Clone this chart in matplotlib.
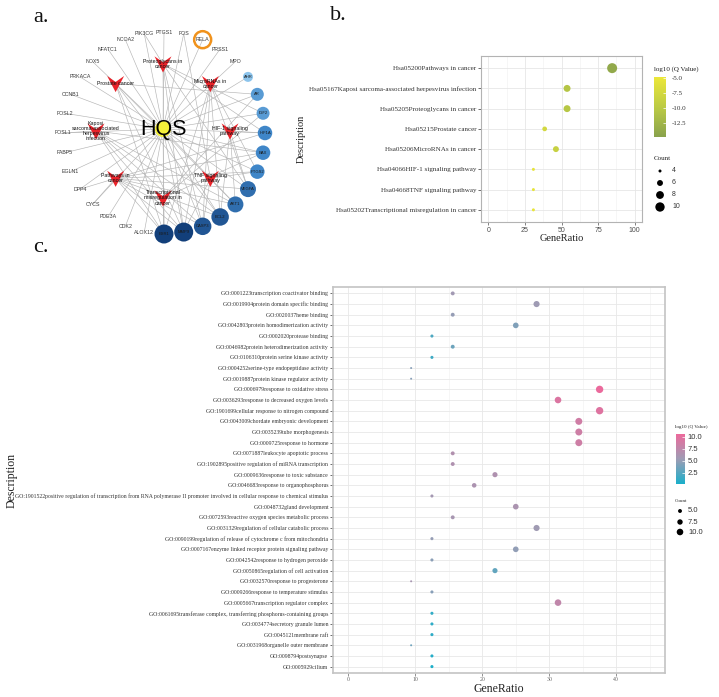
import numpy as np
import matplotlib
matplotlib.use("Agg")
import matplotlib.pyplot as plt
from matplotlib.colors import LinearSegmentedColormap, Normalize
from matplotlib.cm import ScalarMappable
from matplotlib.path import Path
from matplotlib.patches import Circle
import matplotlib.ticker as mticker

SERIF = ["Liberation Serif", "DejaVu Serif"]
SANS = ["Liberation Sans", "DejaVu Sans"]

# ---------------- data: network (panel a) ----------------
compound = "HQS"
genes = ["HIF1A", "IGF2", "AR", "AHR", "MPO", "PRSS1", "RELA", "FOS", "PTGS1", "PIK3CG",
         "NCOA2", "NFATC1", "NOX5", "PRKACA", "CCNB1", "FOSL2", "FOSL1", "FABP5", "EGLN1",
         "DPP4", "CYCS", "PDE3A", "CDK2", "ALOX12", "ESR1", "MMP9", "CASP3", "BCL2", "AKT1",
         "VEGFA", "PTGS2", "BAX"]
core_targets = ["AHR", "AR", "IGF2", "HIF1A", "BAX", "PTGS2", "VEGFA", "AKT1", "BCL2",
                "CASP3", "MMP9", "ESR1"]
highlight_gene = "RELA"
pathway_labels = ["HIF-1 signaling\npathway", "MicroRNAs in\ncancer", "Proteoglycans in\ncancer",
                  "Prostate cancer", "Kaposi\nsarcoma-associated\nherpesvirus\ninfection",
                  "Pathways in\ncancer", "Transcriptional\nmisregulation in\ncancer",
                  "TNF signaling\npathway"]
pathway_members = [
    ["BCL2", "AKT1", "VEGFA", "HIF1A"],
    ["ESR1", "MMP9", "CASP3", "BCL2", "VEGFA", "PTGS2"],
    ["ESR1", "MMP9", "CASP3", "VEGFA", "HIF1A", "IGF2", "PIK3CG"],
    ["ESR1", "MMP9", "BCL2", "AKT1", "AR"],
    ["ESR1", "MMP9", "CASP3", "BCL2", "AKT1", "BAX", "FOSL1"],
    ["ESR1", "MMP9", "CASP3", "BCL2", "AKT1", "VEGFA", "PTGS2", "BAX", "HIF1A", "CYCS", "DPP4"],
    ["ESR1", "BAX", "IGF2", "AR"],
    ["MMP9", "CASP3", "PTGS2", "FOS"],
]

# ---------------- data: KEGG (panel b) ----------------
kegg_terms = ["Hsa05200Pathways in cancer",
              "Hsa05167Kaposi sarcoma-associated herpesvirus infection",
              "Hsa05205Proteoglycans in cancer",
              "Hsa05215Prostate cancer",
              "Hsa05206MicroRNAs in cancer",
              "Hsa04066HIF-1 signaling pathway",
              "Hsa04668TNF signaling pathway",
              "Hsa05202Transcriptional misregulation in cancer"]
kegg_ratio = [84.6, 53.8, 53.8, 38.5, 46.2, 30.8, 30.8, 30.8]
kegg_count = [11, 7, 7, 5, 6, 4, 4, 4]
kegg_logq = [-14.0, -10.6, -10.4, -7.6, -8.8, -5.6, -5.5, -5.3]

# ---------------- data: GO (panel c) ----------------
go_terms = [
    "GO:0001223transcription coactivator binding",
    "GO:0019904protein domain specific binding",
    "GO:0020037heme binding",
    "GO:0042803protein homodimerization activity",
    "GO:0002020protease binding",
    "GO:0046982protein heterodimerization activity",
    "GO:0106310protein serine kinase activity",
    "GO:0004252serine-type endopeptidase activity",
    "GO:0019887protein kinase regulator activity",
    "GO:0006979response to oxidative stress",
    "GO:0036293response to decreased oxygen levels",
    "GO:1901699cellular response to nitrogen compound",
    "GO:0043009chordate embryonic development",
    "GO:0035239tube morphogenesis",
    "GO:0009725response to hormone",
    "GO:0071887leukocyte apoptotic process",
    "GO:1902895positive regulation of miRNA transcription",
    "GO:0009636response to toxic substance",
    "GO:0046683response to organophosphorus",
    "GO:1901522positive regulation of transcription from RNA polymerase II promoter involved in cellular response to chemical stimulus",
    "GO:0048732gland development",
    "GO:0072593reactive oxygen species metabolic process",
    "GO:0031329regulation of cellular catabolic process",
    "GO:0090199regulation of release of cytochrome c from mitochondria",
    "GO:0007167enzyme linked receptor protein signaling pathway",
    "GO:0042542response to hydrogen peroxide",
    "GO:0050865regulation of cell activation",
    "GO:0032570response to progesterone",
    "GO:0009266response to temperature stimulus",
    "GO:0005667transcription regulator complex",
    "GO:0061695transferase complex, transferring phosphorus-containing groups",
    "GO:0034774secretory granule lumen",
    "GO:0045121membrane raft",
    "GO:0031968organelle outer membrane",
    "GO:0098794postsynapse",
    "GO:0005929cilium",
]
go_ratio = [15.6, 28.1, 15.6, 25.0, 12.5, 15.6, 12.5, 9.4, 9.4, 37.5, 31.3, 37.5, 34.4, 34.4,
            34.4, 15.6, 15.6, 21.9, 18.8, 12.5, 25.0, 15.6, 28.1, 12.5, 25.0, 12.5, 21.9, 9.4,
            12.5, 31.3, 12.5, 12.5, 12.5, 9.4, 12.5, 12.5]
go_count = [5, 9, 5, 8, 4, 5, 4, 3, 3, 12, 10, 12, 11, 11, 11, 5, 5, 7, 6, 4, 8, 5, 9, 4, 8, 4,
            7, 3, 4, 10, 4, 4, 4, 3, 4, 4]
go_logq = [5.6, 5.4, 5.0, 4.2, 2.2, 3.4, 1.6, 4.5, 4.5, 10.5, 9.4, 9.6, 8.6, 8.5, 8.5, 6.6, 6.5,
           6.5, 6.3, 5.8, 6.2, 6.0, 5.5, 5.0, 4.9, 4.6, 3.0, 6.0, 4.5, 7.6, 1.1, 1.0, 1.0, 3.5,
           0.6, 0.3]

# ---------------- figure ----------------
W, H = 719, 697
fig = plt.figure(figsize=(W / 100, H / 100), dpi=100)
fig.patch.set_facecolor("white")


def fb(left, top, right, bottom):
    return [left / W, 1 - bottom / H, (right - left) / W, (bottom - top) / H]


# ================= panel a: network =================
axn = fig.add_axes(fb(0, 0, 290, 260))
axn.set_xlim(0, 290)
axn.set_ylim(260, 0)
axn.axis("off")

gc = (164, 133)
gr = 101
gene_pos = {}
for k, g in enumerate(genes):
    th = np.deg2rad(k * 360 / len(genes))
    gene_pos[g] = (gc[0] + gr * np.cos(th), gc[1] - gr * np.sin(th))

pc = (163, 131)
pr = 67
path_pos = []
for k in range(len(pathway_labels)):
    th = np.deg2rad(k * 360 / len(pathway_labels))
    path_pos.append((pc[0] + pr * np.cos(th), pc[1] - pr * np.sin(th)))

hqs_pos = (163, 129)
edge_kw = dict(color="#b5b5b5", lw=0.45, zorder=1)
for g in genes:
    x, y = gene_pos[g]
    axn.plot([hqs_pos[0], x], [hqs_pos[1], y], **edge_kw)
for (px_, py_), members in zip(path_pos, pathway_members):
    for g in members:
        x, y = gene_pos[g]
        axn.plot([px_, x], [py_, y], **edge_kw)

degree = {g: 0 for g in genes}
for members in pathway_members:
    for g in members:
        degree[g] += 1

blue_cmap = LinearSegmentedColormap.from_list("blue", ["#8cc4ec", "#3f86c8", "#123f7a"])
maxdeg = max(degree[g] for g in core_targets)
for g in core_targets:
    x, y = gene_pos[g]
    d = degree[g]
    r = 5.0 + 0.75 * d
    axn.scatter([x], [y], s=(2 * r * 0.72) ** 2, color=blue_cmap(d / maxdeg),
                edgecolors="none", zorder=3)
    axn.text(x, y, g, fontsize=3.0, family=SANS, color="#1a1a1a", ha="center",
             va="center", zorder=5)

for g in genes:
    if g in core_targets:
        continue
    x, y = gene_pos[g]
    axn.text(x, y, g, fontsize=3.8, family=SANS, color="#3a3a3a", ha="center",
             va="center", zorder=5)

hx, hy = gene_pos[highlight_gene]
axn.add_patch(Circle((hx, hy), 8.5, fill=False, edgecolor="#f0921c", lw=1.8, zorder=6))

vmark = Path([(-1, 0.9), (0, 0.2), (1, 0.9), (0, -1), (-1, 0.9)],
             [Path.MOVETO, Path.LINETO, Path.LINETO, Path.LINETO, Path.CLOSEPOLY])
for (x, y), lab in zip(path_pos, pathway_labels):
    axn.scatter([x], [y], s=(17 * 0.72) ** 2, marker=vmark, color="#e8232a",
                edgecolors="none", zorder=4)
    axn.text(x, y, lab, fontsize=3.8, family=SANS, color="#111111", ha="center",
             va="center", zorder=5, linespacing=1.05)

axn.scatter([hqs_pos[0]], [hqs_pos[1]], s=(16 * 0.72) ** 2, color="#f4f03a",
            edgecolors="none", zorder=4)
axn.text(hqs_pos[0], hqs_pos[1], compound, fontsize=15.5, family=SANS, color="black",
         ha="center", va="center", zorder=6)

# ================= panel b: KEGG dot plot =================
axb = fig.add_axes(fb(481, 56, 642, 222))
cmap_b = LinearSegmentedColormap.from_list("kegg", ["#89a24c", "#bccb44", "#ece73a"])
norm_b = Normalize(vmin=-14.9, vmax=-4.9)


def size_b(c):
    return (9 + 13 * (np.asarray(c, dtype=float) - 4)) * 0.72 ** 2


yb = np.arange(len(kegg_terms))
axb.scatter(kegg_ratio, yb, s=size_b(kegg_count), c=kegg_logq, cmap=cmap_b, norm=norm_b,
            edgecolors="none", zorder=3)
axb.set_xlim(-5, 105)
axb.set_ylim(len(kegg_terms) - 0.4, -0.6)
axb.set_xticks([0, 25, 50, 75, 100])
axb.xaxis.set_minor_locator(mticker.FixedLocator([12.5, 37.5, 62.5, 87.5]))
axb.set_yticks(yb)
axb.set_yticklabels(kegg_terms, fontsize=5.1, family=SERIF, color="#4d4d4d")
axb.tick_params(axis="x", labelsize=5, colors="#4d4d4d", length=2, width=0.5, pad=1.5)
axb.tick_params(axis="y", length=2, width=0.5, colors="#333333", pad=1.5)
axb.tick_params(axis="both", which="minor", length=0)
for lab in axb.get_xticklabels():
    lab.set_family(SANS)
axb.grid(True, which="major", color="#e6e6e6", lw=0.6, zorder=0)
axb.grid(True, which="minor", axis="x", color="#f0f0f0", lw=0.4, zorder=0)
axb.set_axisbelow(True)
for sp in axb.spines.values():
    sp.set_color("#b3b3b3")
    sp.set_linewidth(0.8)
axb.set_xlabel("GeneRatio", fontsize=7.5, family=SERIF, color="#222222")
axb.xaxis.set_label_coords(0.5, -0.07)
axb.set_ylabel("Description", fontsize=7.5, family=SERIF, color="#222222")
axb.yaxis.set_label_coords((306 - 481) / 161, 0.5)

caxb = fig.add_axes(fb(654, 77, 666, 137))
cbb = fig.colorbar(ScalarMappable(norm=norm_b, cmap=cmap_b), cax=caxb)
cbb.outline.set_visible(False)
cbb.set_ticks([-5.0, -7.5, -10.0, -12.5])
cbb.set_ticklabels(["-5.0", "-7.5", "-10.0", "-12.5"])
caxb.tick_params(length=2, color="white", width=0.5, direction="in", pad=4)
for lab in caxb.get_yticklabels():
    lab.set_fontsize(5)
    lab.set_family(SERIF)
    lab.set_color("#333333")

# ================= panel c: GO dot plot =================
axc = fig.add_axes(fb(333, 287, 665, 673))
cmap_c = LinearSegmentedColormap.from_list("go", ["#1aafca", "#9e9cb4", "#ec6a9c"])
norm_c = Normalize(vmin=0.15, vmax=10.56)


def size_c(c):
    return (4 + 5.6 * (np.asarray(c, dtype=float) - 3)) * 0.72 ** 2


yc = np.arange(len(go_terms))
axc.scatter(go_ratio, yc, s=size_c(go_count), c=go_logq, cmap=cmap_c, norm=norm_c,
            edgecolors="none", zorder=3)
axc.set_xlim(-2.25, 47.25)
axc.set_ylim(len(go_terms) - 0.4, -0.6)
axc.set_xticks([0, 10, 20, 30, 40])
axc.xaxis.set_minor_locator(mticker.FixedLocator([5, 15, 25, 35, 45]))
axc.set_yticks(yc)
axc.set_yticklabels(go_terms, fontsize=4.15, family=SERIF, color="#4d4d4d")
axc.tick_params(axis="x", labelsize=4.2, colors="#666666", length=2, width=0.5, pad=1)
axc.tick_params(axis="y", length=2, width=0.5, colors="#333333", pad=1.5)
axc.tick_params(axis="both", which="minor", length=0)
for lab in axc.get_xticklabels():
    lab.set_family(SERIF)
axc.grid(True, which="major", color="#e8e8e8", lw=0.6, zorder=0)
axc.grid(True, which="minor", axis="x", color="#f0f0f0", lw=0.4, zorder=0)
axc.set_axisbelow(True)
for sp in axc.spines.values():
    sp.set_color("#c4c4c4")
    sp.set_linewidth(1.2)
axc.set_xlabel("GeneRatio", fontsize=8.5, family=SERIF, color="#222222")
axc.xaxis.set_label_coords((499 - 333) / 332, -(683.5 - 673) / 386)
axc.set_ylabel("Description", fontsize=8.5, family=SERIF, color="#222222")
axc.yaxis.set_label_coords((18 - 333) / 332, 0.5)

caxc = fig.add_axes(fb(676, 434, 685, 484))
cbc = fig.colorbar(ScalarMappable(norm=norm_c, cmap=cmap_c), cax=caxc)
cbc.outline.set_visible(False)
cbc.set_ticks([2.5, 5.0, 7.5, 10.0])
cbc.set_ticklabels(["2.5", "5.0", "7.5", "10.0"])
caxc.tick_params(length=2, color="white", width=0.5, direction="in", pad=2)
for lab in caxc.get_yticklabels():
    lab.set_fontsize(5.5)
    lab.set_family(SANS)
    lab.set_color("#333333")

# ================= overlay: titles, legends =================
ov = fig.add_axes([0, 0, 1, 1], zorder=10)
ov.set_xlim(0, W)
ov.set_ylim(H, 0)
ov.axis("off")
ov.patch.set_alpha(0)

for txt, (x, y) in [("a.", (33, 17)), ("b.", (330, 15)), ("c.", (33, 247))]:
    ov.text(x, y, txt, fontsize=16, family=SERIF, ha="left", va="center", color="#111111")

# panel b legend
ov.text(654, 69, "log10 (Q Value)", fontsize=5, family=SERIF, ha="left", va="center",
        color="#222222")
ov.text(654, 158, "Count", fontsize=5, family=SERIF, ha="left", va="center", color="#222222")
leg_b = [4, 6, 8, 10]
leg_by = [171, 183, 195, 207]
ov.scatter([660] * 4, leg_by, s=size_b(leg_b), color="black", edgecolors="none")
for v, y in zip(leg_b, leg_by):
    ov.text(672, y, str(v), fontsize=5, family=SANS, ha="left", va="center", color="#333333")

# panel c legend
ov.text(675, 427, "log10 (Q Value)", fontsize=3.6, family=SERIF, ha="left", va="center",
        color="#222222")
ov.text(675, 501, "Count", fontsize=3.6, family=SERIF, ha="left", va="center",
        color="#222222")
leg_c = [5.0, 7.5, 10.0]
leg_cy = [511, 522, 532]
ov.scatter([680] * 3, leg_cy, s=size_c(leg_c), color="black", edgecolors="none")
for v, y in zip(leg_c, leg_cy):
    ov.text(688, y, f"{v:.1f}", fontsize=5.5, family=SANS, ha="left", va="center",
            color="#333333")

fig.savefig("out.png", dpi=100, facecolor="white")
